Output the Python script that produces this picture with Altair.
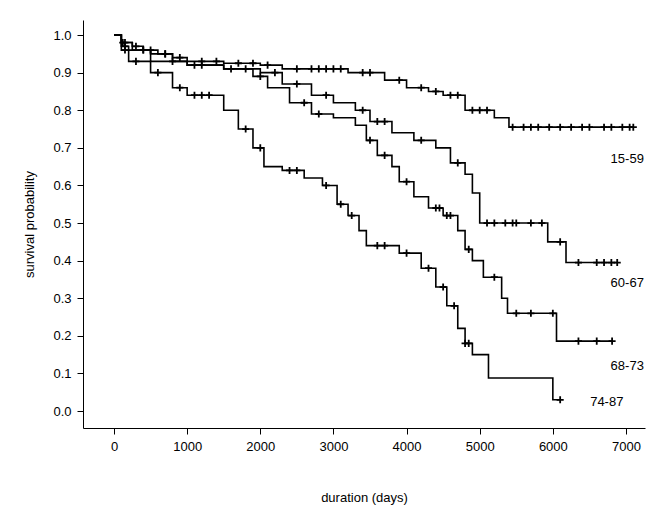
import altair as alt
import pandas as pd
import bisect

# step curves: (time, survival) at each drop, per age group
groups = ["15-59", "60-67", "68-73", "74-87"]
times = {
    "15-59": [0, 100, 250, 400, 600, 800, 1000, 1500, 2000, 2300, 3200, 3700, 4000, 4300, 4500, 4800, 5200, 5400, 7100],
    "60-67": [0, 100, 250, 500, 800, 1000, 1500, 2000, 2300, 2700, 3000, 3300, 3500, 3800, 4100, 4400, 4600, 4800, 4900, 5000, 5930, 6180, 6880],
    "68-73": [0, 100, 200, 500, 1000, 1500, 1900, 2100, 2400, 2700, 3000, 3300, 3450, 3600, 3800, 3900, 4100, 4300, 4500, 4700, 4800, 4900, 5050, 5300, 5380, 6050, 6810],
    "74-87": [0, 100, 200, 500, 800, 1000, 1500, 1700, 1900, 2050, 2300, 2600, 2850, 3050, 3200, 3350, 3450, 3900, 4200, 4400, 4550, 4700, 4800, 4900, 5120, 6000, 6100],
}
surv = {
    "15-59": [1.0, 0.98, 0.97, 0.96, 0.95, 0.94, 0.93, 0.925, 0.92, 0.91, 0.90, 0.88, 0.86, 0.85, 0.84, 0.80, 0.78, 0.755, 0.755],
    "60-67": [1.0, 0.98, 0.96, 0.95, 0.93, 0.92, 0.91, 0.90, 0.87, 0.84, 0.82, 0.80, 0.77, 0.74, 0.72, 0.70, 0.66, 0.63, 0.58, 0.50, 0.45, 0.395, 0.395],
    "68-73": [1.0, 0.97, 0.96, 0.93, 0.92, 0.91, 0.89, 0.86, 0.82, 0.79, 0.78, 0.76, 0.72, 0.68, 0.65, 0.61, 0.57, 0.54, 0.52, 0.48, 0.43, 0.40, 0.356, 0.30, 0.26, 0.186, 0.186],
    "74-87": [1.0, 0.96, 0.93, 0.90, 0.86, 0.84, 0.80, 0.75, 0.70, 0.65, 0.64, 0.62, 0.60, 0.55, 0.52, 0.48, 0.44, 0.42, 0.38, 0.33, 0.28, 0.22, 0.18, 0.15, 0.088, 0.03, 0.03],
}
# censored observation times
censor = {
    "15-59": [120, 300, 500, 700, 900, 1200, 1400, 1700, 1900, 2100, 2500, 2700, 2800, 2900, 3000, 3100, 3400, 3500, 3900, 4200, 4400, 4600, 4700, 4900, 5000, 5100, 5450, 5600, 5700, 5800, 5950, 6100, 6250, 6400, 6500, 6700, 6800, 6950, 7050, 7100],
    "60-67": [150, 400, 700, 1200, 1800, 2200, 2500, 2900, 3400, 3600, 3700, 4200, 4700, 5100, 5200, 5350, 5450, 5500, 5700, 5850, 6100, 6350, 6600, 6700, 6800, 6880],
    "68-73": [150, 400, 800, 1100, 1600, 2000, 2600, 2800, 3500, 3700, 4000, 4400, 4450, 4550, 4600, 4850, 5200, 5500, 5700, 6000, 6350, 6600, 6810],
    "74-87": [150, 300, 600, 900, 1100, 1200, 1300, 1800, 2000, 2400, 2500, 2900, 3100, 3250, 3600, 3700, 4000, 4300, 4500, 4650, 4800, 4850, 6100],
}
label_t = [6790, 6790, 6790, 6510]
label_s = [0.67, 0.34, 0.12, 0.024]

lines = []
cens = []
for g in groups:
    for t, s in zip(times[g], surv[g]):
        lines.append({"group": g, "t": t, "s": s})
    for c in censor[g]:
        i = bisect.bisect_right(times[g], c) - 1
        cens.append({"group": g, "t": c, "s": surv[g][i]})
lines = pd.DataFrame(lines)
cens = pd.DataFrame(cens)
labels = pd.DataFrame({"group": groups, "t": label_t, "s": label_s})

xs = alt.Scale(domain=[-424, 7260], nice=False, zero=False)
ys = alt.Scale(domain=[-0.045, 1.04], nice=False, zero=False)
xax = alt.X("t:Q", scale=xs, title="duration (days)",
            axis=alt.Axis(values=list(range(0, 8000, 1000)), format="d", grid=False, titlePadding=38))
yax = alt.Y("s:Q", scale=ys, title="survival probability",
            axis=alt.Axis(values=[i / 10 for i in range(11)], format=".1f", grid=False, titlePadding=16))

line = alt.Chart(lines).mark_line(interpolate="step-after", color="black", strokeWidth=1.6).encode(
    x=xax, y=yax, detail="group:N")
pts = alt.Chart(cens).mark_point(shape="M-1,0L1,0M0,-1L0,1", filled=False, color="black",
                                 size=50, strokeWidth=1.8, opacity=1).encode(x="t:Q", y="s:Q")
txt = alt.Chart(labels).mark_text(align="left", fontSize=13, font="Liberation Sans", color="black").encode(
    x="t:Q", y="s:Q", text="group:N")

chart = (line + pts + txt).properties(
    width=562, height=408, autosize="none",
    padding={"left": 75, "top": 12, "right": 2, "bottom": 77},
    background="white",
).configure_view(stroke=None).configure_axis(
    labelFont="Liberation Sans", titleFont="Liberation Sans", labelFontSize=13,
    titleFontSize=13, titleFontWeight="normal", labelColor="black", titleColor="black",
    domainColor="black", tickColor="black", labelPadding=6, tickSize=6)

chart.save("out.html", embed_options={"renderer": "svg", "actions": False})
